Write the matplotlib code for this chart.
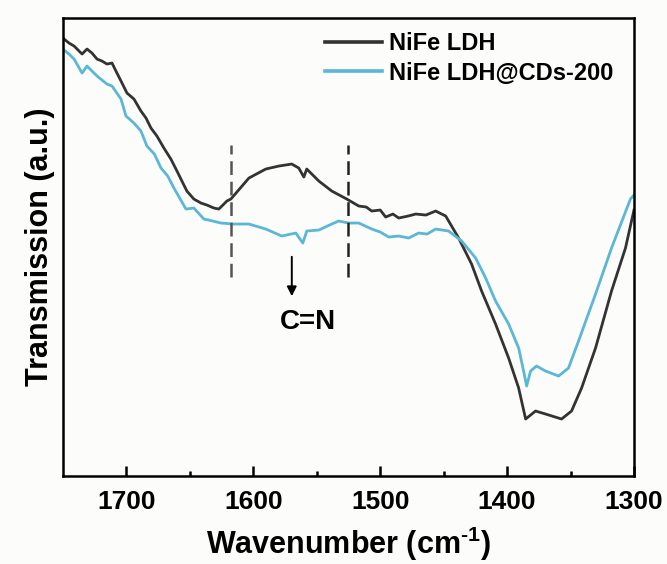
import matplotlib
matplotlib.use('Agg')
import matplotlib.pyplot as plt

plt.rcParams['font.family'] = ['Liberation Sans', 'DejaVu Sans']
plt.rcParams['font.weight'] = 'bold'
plt.rcParams['mathtext.fontset'] = 'custom'
plt.rcParams['mathtext.rm'] = 'Liberation Sans:bold'
plt.rcParams['mathtext.bf'] = 'Liberation Sans:bold'

# Datos (numero de onda, transmision en u.a.)
wn_ldh = [1749.2, 1745.3, 1741.3, 1735.0, 1731.1, 1727.2, 1723.2, 1719.3, 1715.4, 1711.4,
          1708.3, 1704.3, 1699.6, 1694.1, 1688.6, 1684.6, 1680.7, 1676.0, 1670.5, 1665.0,
          1660.2, 1652.4, 1646.9, 1641.3, 1636.6, 1631.1, 1627.2, 1623.2, 1620.9, 1617.7,
          1603.5, 1590.2, 1579.9, 1569.7, 1564.2, 1560.2, 1557.9, 1548.4, 1538.2, 1526.4,
          1516.9, 1511.0, 1506.7, 1500.0, 1495.7, 1490.0, 1485.4, 1478.0, 1472.0, 1464.0,
          1456.3, 1448.4, 1438.2, 1428.0, 1420.1, 1409.1, 1398.8, 1390.9, 1385.4, 1377.6,
          1369.7, 1357.1, 1349.2, 1341.3, 1330.3, 1317.7, 1306.7, 1300.0]
t_ldh = [437, 433, 430, 422, 427, 423, 417, 415, 412, 413,
         405, 395, 383, 377, 365, 358, 348, 340, 328, 317,
         305, 285, 277, 273, 271, 268, 267, 272, 275, 277,
         298, 307, 310, 312, 308, 299, 307, 295, 285, 277,
         270, 269, 265, 266, 259, 262, 258, 260, 262, 261,
         265, 260, 238, 212, 185, 152, 118, 88, 57, 65,
         62, 57, 65, 88, 128, 185, 228, 266]

wn_cds = [1749.2, 1745.3, 1741.3, 1735.0, 1731.1, 1727.2, 1723.2, 1719.3, 1715.4, 1711.4,
          1704.3, 1700.4, 1694.1, 1688.6, 1683.9, 1678.0, 1672.8, 1667.5, 1662.6, 1653.1,
          1646.9, 1639.0, 1632.0, 1625.6, 1615.4, 1603.5, 1590.2, 1577.6, 1566.5, 1561.0,
          1557.9, 1548.4, 1538.2, 1532.7, 1524.8, 1516.9, 1506.7, 1500.0, 1493.3, 1485.4,
          1477.6, 1469.7, 1463.0, 1456.3, 1446.1, 1435.8, 1424.8, 1416.9, 1409.1, 1398.8,
          1390.9, 1387.0, 1384.6, 1381.5, 1376.8, 1369.7, 1359.4, 1351.6, 1343.7, 1330.3,
          1317.7, 1302.8, 1300.0]
t_cds = [426, 422, 417, 403, 410, 405, 400, 396, 392, 390,
         377, 360, 353, 345, 330, 322, 308, 300, 288, 267,
         268, 257, 255, 253, 252, 252, 247, 240, 243, 233,
         245, 246, 252, 255, 253, 253, 247, 244, 239, 240,
         238, 243, 242, 247, 245, 235, 218, 198, 175, 152,
         128, 105, 90, 105, 110, 105, 100, 108, 135, 182,
         228, 277, 281]

fig = plt.figure(figsize=(6.67, 5.64), dpi=100, facecolor='#fcfcfb')
ax = fig.add_axes([0.0945, 0.156, 0.856, 0.812])
ax.set_facecolor('#fcfcfb')

ax.plot(wn_ldh, t_ldh, color='#333333', lw=2.0, label='NiFe LDH')
ax.plot(wn_cds, t_cds, color='#5ab7d6', lw=2.0, label='NiFe LDH@CDs-200')

# lineas discontinuas y flecha C=N
ax.vlines(1617.7, 199, 331, colors='#555555', linestyles=(0, (5.5, 2.7)), lw=1.8)
ax.vlines(1525.6, 199, 331, colors='#222222', linestyles=(0, (5.5, 2.7)), lw=1.8)
ax.annotate('', xy=(1569.7, 177), xytext=(1569.7, 222),
            arrowprops=dict(arrowstyle='-|>', color='black', lw=1.4, mutation_scale=14))
ax.text(1557, 154, 'C=N', ha='center', va='center', fontsize=20, fontweight='bold')

ax.set_xlim(1750, 1300)
ax.set_ylim(0, 458)
ax.set_xticks([1700, 1600, 1500, 1400, 1300])
ax.set_xticks([1650, 1550, 1450, 1350], minor=True)
ax.set_yticks([])
ax.tick_params(axis='x', which='major', direction='in', length=7, width=1.8, labelsize=19, pad=10)
ax.tick_params(axis='x', which='minor', direction='in', length=3.5, width=1.8)
for s in ax.spines.values():
    s.set_linewidth(1.8)

ax.set_xlabel('Wavenumber (cm$^{\\text{-1}}$)', fontsize=22, fontweight='bold', labelpad=8)
ax.set_ylabel('Transmission (a.u.)', fontsize=22, fontweight='bold', labelpad=6)

leg = ax.legend(loc='upper left', bbox_to_anchor=(0.439, 0.995), frameon=False, fontsize=17,
                handlelength=2.4, handletextpad=0.3, labelspacing=0.27, borderpad=0)
for h in leg.get_lines():
    h.set_linewidth(2.6)

fig.savefig('out.png', dpi=100, facecolor=fig.get_facecolor())
